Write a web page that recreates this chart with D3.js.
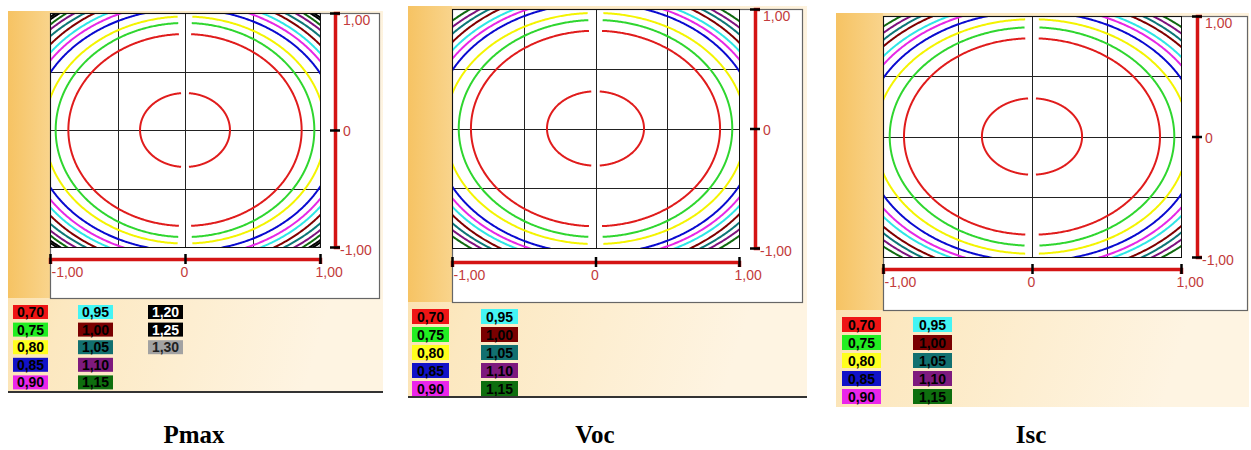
<!DOCTYPE html>
<html>
<head>
<meta charset="utf-8">
<script src="https://cdnjs.cloudflare.com/ajax/libs/d3/7.8.5/d3.min.js"></script>
<style>
  html, body { margin: 0; padding: 0; background: #fff; }
  svg { display: block; }
  .tickLbl { font-family: 'Liberation Sans', Arial, sans-serif; font-size: 14px; fill: #c23b3b; }
  .legLbl { font-family: 'Liberation Sans', Arial, sans-serif; font-size: 14px; font-weight: bold; }
  .title { font-family: 'Liberation Serif', 'Times New Roman', serif; font-size: 25px; font-weight: bold; }
</style>
</head>
<body>
<svg id="chart" width="1251" height="450"></svg>
<script>
(function () {
  'use strict';

  // contour levels shown in the legends
  var levelLabels = ['0,70', '0,75', '0,80', '0,85', '0,90', '0,95', '1,00',
    '1,05', '1,10', '1,15', '1,20', '1,25', '1,30'];
  var panelNames = ['Pmax', 'Voc', 'Isc'];
  var legendCounts = [13, 10, 10];
  var axisTicks = [-1, 0, 1];
  var axisTickLabels = ['-1,00', '0', '1,00'];
  var gridValues = [-0.5, 0, 0.5];

  // contours: level index, half width, half height (axis units)
  var pmaxLevel = [0, 0, 1, 2, 3, 4, 5, 6, 7, 8, 9, 10, 11, 12];
  var pmaxRx = [0.333, 0.864, 0.958, 1.040, 1.133, 1.191, 1.231, 1.276, 1.343, 1.389, 1.411, 1.463, 1.490, 1.520];
  var pmaxRy = [0.316, 0.820, 0.915, 0.970, 1.036, 1.087, 1.128, 1.173, 1.198, 1.235, 1.275, 1.292, 1.300, 1.320];

  var vocLevel = [0, 0, 1, 2, 3, 4, 5, 6, 7, 8, 9];
  var vocRx = [0.338, 0.868, 0.953, 1.048, 1.127, 1.182, 1.227, 1.265, 1.328, 1.383, 1.427];
  var vocRy = [0.311, 0.818, 0.908, 0.967, 1.048, 1.088, 1.124, 1.176, 1.201, 1.226, 1.262];

  var iscLevel = [0, 0, 1, 2, 3, 4, 5, 6, 7, 8, 9];
  var iscRx = [0.336, 0.859, 0.955, 1.051, 1.130, 1.194, 1.242, 1.303, 1.340, 1.397, 1.458];
  var iscRy = [0.317, 0.815, 0.906, 0.973, 1.036, 1.085, 1.117, 1.162, 1.201, 1.228, 1.252];

  // colours
  var lineColors = ['#e01c1c', '#2fd62f', '#f4f400', '#0a0ad0', '#e628e6', '#2ee6e6',
    '#800000', '#0d7777', '#7e127e', '#106a10', '#000000', '#000000', '#9a9a9a'];
  var legendFill = ['#ee1515', '#22ee22', '#ffff1e', '#1212c8', '#ea26ea', '#44f4f4',
    '#7a0000', '#127070', '#7e1a7e', '#0e6e0e', '#000000', '#000000', '#a2a2a2'];
  var legendInk = ['#000', '#000', '#000', '#000', '#000', '#000', '#000',
    '#000', '#000', '#000', '#fff', '#fff', '#222'];

  var contours = [
    { level: pmaxLevel, rx: pmaxRx, ry: pmaxRy },
    { level: vocLevel, rx: vocRx, ry: vocRy },
    { level: iscLevel, rx: iscRx, ry: iscRy }
  ];

  // screen layout of the three screenshots
  var panels = [
    { box: [8, 11, 383, 392], frame: [50, 13, 379, 298], plot: [50, 320, 13, 247],
      vAxisX: 335, hAxisY: 259, legX: [13, 78, 148], legY: 305, legPitch: 17.6,
      legW: 35, legH: 14, titleX: 194, bottomLine: true },
    { box: [408, 6, 807, 397], frame: [452, 9, 802, 302], plot: [452, 739, 9, 248],
      vAxisX: 755, hAxisY: 262, legX: [412, 481], legY: 309, legPitch: 18,
      legW: 37, legH: 15, titleX: 595, bottomLine: true },
    { box: [836, 13, 1249, 407], frame: [883, 16, 1247, 310], plot: [883, 1181, 16, 257],
      vAxisX: 1197, hAxisY: 269, legX: [842, 913], legY: 317, legPitch: 18,
      legW: 39, legH: 15, titleX: 1031, bottomLine: false }
  ];

  function init () {
    var svg = d3.select('#chart');
    var defs = svg.append('defs');

    var bg = defs.append('linearGradient').attr('id', 'bgGrad')
      .attr('x1', 0).attr('y1', 0).attr('x2', 1).attr('y2', 0.3);
    bg.append('stop').attr('offset', 0).attr('stop-color', '#fadb9f');
    bg.append('stop').attr('offset', 0.35).attr('stop-color', '#fce8c0');
    bg.append('stop').attr('offset', 1).attr('stop-color', '#fef4e2');

    var strip = defs.append('linearGradient').attr('id', 'stripGrad')
      .attr('x1', 0).attr('y1', 0).attr('x2', 1).attr('y2', 0);
    strip.append('stop').attr('offset', 0).attr('stop-color', '#f6c363');
    strip.append('stop').attr('offset', 1).attr('stop-color', '#f9d48c');

    panels.forEach(function (p, i) {
      drawPanel(svg, defs, p, i);
    });
  }

  function drawPanel (svg, defs, p, i) {
    var g = svg.append('g');
    var x = d3.scaleLinear().domain([-1, 1]).range([p.plot[0], p.plot[1]]);
    var y = d3.scaleLinear().domain([-1, 1]).range([p.plot[3], p.plot[2]]);
    var cx = x(0);

    // backgrounds
    g.append('rect')
      .attr('x', p.box[0]).attr('y', p.box[1])
      .attr('width', p.box[2] - p.box[0]).attr('height', p.box[3] - p.box[1])
      .attr('fill', 'url(#bgGrad)');
    g.append('rect')
      .attr('x', p.box[0]).attr('y', p.box[1])
      .attr('width', p.frame[0] - p.box[0]).attr('height', p.frame[3] - p.box[1])
      .attr('fill', 'url(#stripGrad)');
    g.append('rect')
      .attr('x', p.frame[0] + 0.5).attr('y', p.frame[1] + 0.5)
      .attr('width', p.frame[2] - p.frame[0]).attr('height', p.frame[3] - p.frame[1])
      .attr('fill', '#fff').attr('stroke', '#666').attr('stroke-width', 1.2);

    // grid
    g.selectAll('.gx').data(gridValues).enter().append('line')
      .attr('x1', function (d) { return Math.round(x(d)) + 0.5; })
      .attr('x2', function (d) { return Math.round(x(d)) + 0.5; })
      .attr('y1', p.plot[2]).attr('y2', p.plot[3])
      .attr('stroke', '#222').attr('stroke-width', 1);
    g.selectAll('.gy').data(gridValues).enter().append('line')
      .attr('y1', function (d) { return Math.round(y(d)) + 0.5; })
      .attr('y2', function (d) { return Math.round(y(d)) + 0.5; })
      .attr('x1', p.plot[0]).attr('x2', p.plot[1])
      .attr('stroke', '#222').attr('stroke-width', 1);

    // contours
    var clipId = 'clip' + i;
    defs.append('clipPath').attr('id', clipId).append('rect')
      .attr('x', p.plot[0]).attr('y', p.plot[2])
      .attr('width', p.plot[1] - p.plot[0]).attr('height', p.plot[3] - p.plot[2]);

    var c = contours[i];
    var angles = d3.range(-90, 270.25, 0.5);
    var cg = g.append('g').attr('clip-path', 'url(#' + clipId + ')');
    c.level.forEach(function (lv, k) {
      var rx = c.rx[k];
      var ry = c.ry[k];
      var gap = 2.5 + 4 * rx;
      var line = d3.line()
        .x(function (a) { return x(rx * Math.cos(a * Math.PI / 180)); })
        .y(function (a) { return y(ry * Math.sin(a * Math.PI / 180)); })
        .defined(function (a) {
          return Math.abs(x(rx * Math.cos(a * Math.PI / 180)) - cx) >= gap;
        });
      cg.append('path')
        .attr('d', line(angles))
        .attr('fill', 'none')
        .attr('stroke', lineColors[lv])
        .attr('stroke-width', 2);
    });

    // plot border
    g.append('rect')
      .attr('x', p.plot[0] + 0.5).attr('y', p.plot[2] + 0.5)
      .attr('width', p.plot[1] - p.plot[0]).attr('height', p.plot[3] - p.plot[2])
      .attr('fill', 'none').attr('stroke', '#111').attr('stroke-width', 1);

    // vertical axis on the right
    var yAxis = g.append('g')
      .attr('transform', 'translate(' + p.vAxisX + ',0)')
      .call(d3.axisRight(y).tickValues(axisTicks)
        .tickFormat(function (d, j) { return axisTickLabels[j]; })
        .tickSizeOuter(0).tickSize(5));
    styleAxis(yAxis);
    yAxis.selectAll('.tick line').attr('x1', -5).attr('x2', 5);
    yAxis.selectAll('.tick text')
      .attr('x', function (d) { return d === -1 ? 5 : 8; })
      .attr('dy', function (d) { return d === 1 ? '0.85em' : (d === -1 ? '0.55em' : '0.4em'); })
      .attr('text-anchor', 'start');

    // horizontal axis under the plot
    var xAxis = g.append('g')
      .attr('transform', 'translate(0,' + p.hAxisY + ')')
      .call(d3.axisBottom(x).tickValues(axisTicks)
        .tickFormat(function (d, j) { return axisTickLabels[j]; })
        .tickSizeOuter(0).tickSize(5));
    styleAxis(xAxis);
    xAxis.selectAll('.tick line').attr('y1', -5).attr('y2', 5);
    xAxis.selectAll('.tick text')
      .attr('y', 8)
      .attr('dy', '0.71em')
      .attr('text-anchor', function (d) { return d === 0 ? 'middle' : 'start'; })
      .attr('x', function (d) { return d === -1 ? 1 : (d === 1 ? -5 : -1); });

    // legend
    var n = legendCounts[i];
    var leg = g.selectAll('.leg').data(d3.range(n)).enter().append('g')
      .attr('transform', function (k) {
        return 'translate(' + p.legX[Math.floor(k / 5)] + ',' + (p.legY + (k % 5) * p.legPitch) + ')';
      });
    leg.append('rect')
      .attr('width', p.legW).attr('height', p.legH)
      .attr('fill', function (k) { return legendFill[k]; });
    leg.append('text')
      .attr('class', 'legLbl')
      .attr('x', p.legW / 2).attr('y', p.legH / 2)
      .attr('dy', '0.36em')
      .attr('text-anchor', 'middle')
      .attr('fill', function (k) { return legendInk[k]; })
      .text(function (k) { return levelLabels[k]; });

    if (p.bottomLine) {
      g.append('line')
        .attr('x1', p.box[0]).attr('x2', p.box[2])
        .attr('y1', p.box[3]).attr('y2', p.box[3])
        .attr('stroke', '#333').attr('stroke-width', 2);
    }

    // caption
    svg.append('text')
      .attr('class', 'title')
      .attr('x', p.titleX).attr('y', 443)
      .attr('text-anchor', 'middle')
      .text(panelNames[i]);
  }

  function styleAxis (ax) {
    ax.select('.domain').attr('stroke', '#d41414').attr('stroke-width', 3.5);
    ax.selectAll('.tick line').attr('stroke', '#000').attr('stroke-width', 2.5);
    ax.selectAll('.tick text').attr('class', 'tickLbl').attr('fill', null);
    ax.attr('font-family', null).attr('font-size', null);
  }

  window.addEventListener('load', init);
}());
</script>
</body>
</html>
